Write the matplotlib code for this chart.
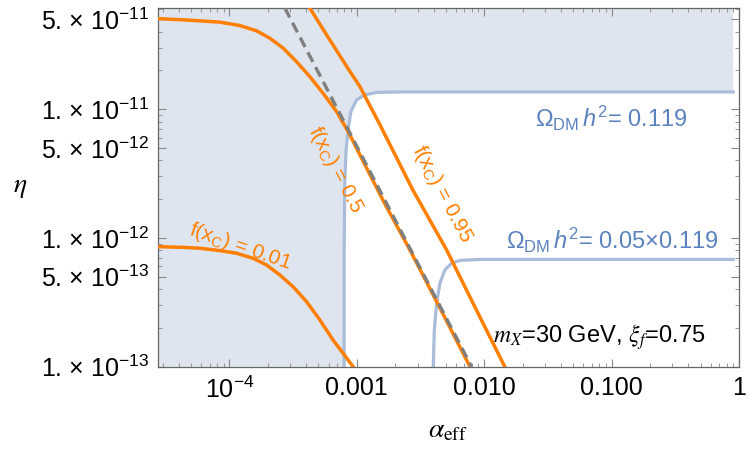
import matplotlib.pyplot as plt
from matplotlib.ticker import FixedLocator, NullFormatter

plt.rcParams['font.family'] = ['Liberation Sans', 'DejaVu Sans']
plt.rcParams['mathtext.fontset'] = 'custom'
plt.rcParams['mathtext.rm'] = 'Liberation Sans'
plt.rcParams['mathtext.it'] = 'Liberation Sans:italic'

# axis range
x_lim = (2.75e-5, 1.0)
y_lim = (1e-13, 6.1e-11)

# f(x_C) contours
f050_x = [2.75e-5, 4.32e-5, 5.84e-5, 8.39e-5, 1.204e-4, 1.63e-4, 2.073e-4, 2.637e-4,
          3.36e-4, 4.27e-4, 5.43e-4, 6.93e-4, 8.54e-4, 1.056e-3, 1.66e-3, 2.61e-3,
          4.49e-3, 7.73e-3]
f050_y = [5.04e-11, 4.94e-11, 4.85e-11, 4.74e-11, 4.46e-11, 4.06e-11, 3.56e-11, 2.98e-11,
          2.34e-11, 1.79e-11, 1.33e-11, 9.58e-12, 6.70e-12, 4.42e-12, 1.84e-12, 8.07e-13,
          2.86e-13, 1.0e-13]

f095_x = [4.27e-4, 6.13e-4, 8.66e-4, 1.056e-3, 1.52e-3, 2.75e-3, 5.07e-3, 8.45e-3, 1.45e-2]
f095_y = [6.1e-11, 3.45e-11, 2.02e-11, 1.50e-11, 7.55e-12, 2.36e-12, 8.07e-13, 2.91e-13, 1.0e-13]

f001_x = [2.75e-5, 4.32e-5, 5.84e-5, 8.39e-5, 1.135e-4, 1.532e-4, 1.953e-4, 2.485e-4,
          3.16e-4, 4.03e-4, 5.12e-4, 6.51e-4, 7.81e-4, 9.35e-4, 9.82e-4]
f001_y = [8.55e-13, 8.45e-13, 8.32e-13, 7.97e-13, 7.61e-13, 6.95e-13, 6.17e-13, 5.16e-13,
          4.18e-13, 3.20e-13, 2.31e-13, 1.61e-13, 1.27e-13, 1.0e-13, 0.91e-13]

# asymptotic line (dashed)
asym_x = [2.72e-4, 7.96e-3]
asym_y = [6.1e-11, 1.0e-13]

# relic density contours
om1_x = [7.95e-4, 7.95e-4, 8.05e-4, 8.24e-4, 8.54e-4, 8.97e-4, 9.95e-4, 1.155e-3,
         1.436e-3, 2.18e-3, 0.9]
om1_y = [1.0e-13, 8.07e-13, 2.82e-12, 4.83e-12, 6.90e-12, 9.53e-12, 1.18e-11, 1.29e-11,
         1.35e-11, 1.36e-11, 1.36e-11]

om2_x = [3.98e-3, 4.06e-3, 4.23e-3, 4.49e-3, 4.91e-3, 5.55e-3, 6.44e-3, 9.25e-3, 0.9]
om2_y = [1.0e-13, 1.93e-13, 3.11e-13, 4.45e-13, 5.64e-13, 6.36e-13, 6.69e-13, 6.81e-13, 6.81e-13]

y_major = [1e-13, 5e-13, 1e-12, 5e-12, 1e-11, 5e-11]
y_labels = ['1. × 10$^{-13}$', '5. × 10$^{-13}$', '1. × 10$^{-12}$',
            '5. × 10$^{-12}$', '1. × 10$^{-11}$', '5. × 10$^{-11}$']
x_major = [1e-4, 1e-3, 1e-2, 1e-1, 1]
x_labels = ['10$^{-4}$', '0.001', '0.010', '0.100', '1']

orange = '#ff7f00'
fill_col = '#dee5ef'
line_blue = '#a9bddb'
text_blue = '#5b82bf'

fig = plt.figure(figsize=(7.5, 4.5), dpi=100)
ax = fig.add_axes([0.2107, 0.1851, 0.7746, 0.7971])
ax.set_xscale('log')
ax.set_yscale('log')

# shaded region: everything outside the Omega h^2 = 0.119 corner
px = [x_lim[0]] + om1_x + [om1_x[-1], x_lim[0]]
py = [y_lim[0]] + om1_y + [y_lim[1], y_lim[1]]
ax.fill(px, py, color=fill_col, lw=0, zorder=1)

ax.plot(om1_x, om1_y, color=line_blue, lw=2.3, zorder=2, solid_joinstyle='round')
ax.plot(om2_x, om2_y, color=line_blue, lw=2.3, zorder=2, solid_joinstyle='round')

for xs, ys in [(f001_x, f001_y), (f050_x, f050_y), (f095_x, f095_y)]:
    ax.plot(xs, ys, color=orange, lw=2.5, zorder=3, solid_joinstyle='round')
ax.plot(asym_x, asym_y, color='#7f7f7f', lw=2.4, ls=(0, (3.2, 1.8)), zorder=4)

ax.set_xlim(*x_lim)
ax.set_ylim(*y_lim)

ax.yaxis.set_major_locator(FixedLocator(y_major))
ax.set_yticklabels(y_labels)
ax.yaxis.set_minor_locator(FixedLocator(
    [m * 10.0**e for e in (-13, -12, -11) for m in (2, 3, 4, 6, 7, 8, 9)]))
ax.yaxis.set_minor_formatter(NullFormatter())
ax.xaxis.set_major_locator(FixedLocator(x_major))
ax.set_xticklabels(x_labels)
ax.xaxis.set_minor_locator(FixedLocator(
    [m * 10.0**e for e in (-5, -4, -3, -2, -1) for m in range(2, 10)]))
ax.xaxis.set_minor_formatter(NullFormatter())

ax.tick_params(which='both', direction='in', top=True, right=True, color='#888888',
               labelsize=18, pad=6)
ax.tick_params(which='major', length=6, width=0.8)
ax.tick_params(which='minor', length=3, width=0.6)
ax.tick_params(axis='x', pad=7)
for s in ax.spines.values():
    s.set_color('#666666')
    s.set_linewidth(0.9)

ax.text(0.3064, 0.5484, r'f(x$_\mathrm{C}$) = 0.5', transform=ax.transAxes, color=orange,
        fontsize=15, rotation=-62, ha='center', va='center', zorder=5)
ax.text(0.4888, 0.4815, r'f(x$_\mathrm{C}$) = 0.95', transform=ax.transAxes, color=orange,
        fontsize=15, rotation=-62, ha='center', va='center', zorder=5)
ax.text(0.1411, 0.3337, r'f(x$_\mathrm{C}$) = 0.01', transform=ax.transAxes, color=orange,
        fontsize=15, rotation=-19, ha='center', va='center', zorder=5)
ax.text(0.7797, 0.6933, r'Ω$_\mathrm{DM}\,h^2$= 0.119', transform=ax.transAxes,
        color=text_blue, fontsize=17, ha='center', va='center', zorder=5)
ax.text(0.7814, 0.3532, r'Ω$_\mathrm{DM}\,h^2$= 0.05×0.119', transform=ax.transAxes,
        color=text_blue, fontsize=17, ha='center', va='center', zorder=5)
ax.text(0.759, 0.0828, r'$m_X$=30 GeV, $\xi_f$=0.75', transform=ax.transAxes,
        color='black', fontsize=17, ha='center', va='center', zorder=5,
        math_fontfamily='stix')

fig.text(0.597, 0.044, r'$\alpha_{\mathrm{eff}}$', fontsize=20, ha='center', va='center',
         math_fontfamily='stix')
fig.text(0.027, 0.584, r'$\eta$', fontsize=20, ha='center', va='center',
         math_fontfamily='stix')

fig.savefig('out.png', dpi=100)
